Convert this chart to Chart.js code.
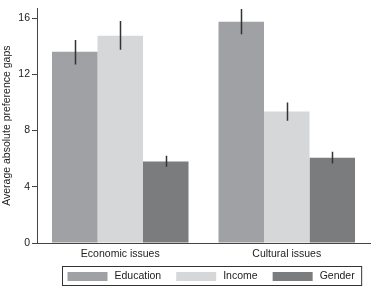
<!DOCTYPE html>
<html>
<head>
<meta charset="utf-8">
<script src="https://cdn.jsdelivr.net/npm/chart.js@4/dist/chart.umd.min.js"></script>
<style>
  html, body { margin: 0; padding: 0; background: #fff; }
  #wrap { width: 382px; height: 287px; }
</style>
</head>
<body>
<div id="wrap"><canvas id="chart" width="382" height="287"></canvas></div>
<script>
// Preference gaps by issue domain - grouped bars with confidence intervals
const categories = ['Economic issues', 'Cultural issues'];
const seriesNames = ['Education', 'Income', 'Gender'];
const seriesColors = ['#a0a1a4', '#d6d7d9', '#7b7c7e'];
const education = [13.6, 15.75];
const income = [14.75, 9.35];
const gender = [5.8, 6.07];
// [low, high] for each category
const educationCI = [[12.7, 14.45], [14.85, 16.65]];
const incomeCI = [[13.75, 15.8], [8.7, 10.0]];
const genderCI = [[5.42, 6.2], [5.65, 6.5]];
const yTicks = [0, 4, 8, 12, 16];

const FONT = 'Liberation Sans, Arial, Helvetica, sans-serif';
const intervals = [educationCI, incomeCI, genderCI];

const errorBars = {
    id: 'errorBars',
    afterDatasetsDraw(chart) {
        const ctx = chart.ctx, y = chart.scales.y, area = chart.chartArea;
        ctx.save();
        ctx.beginPath();
        ctx.rect(area.left, area.top, area.right - area.left, area.bottom - area.top);
        ctx.clip();
        ctx.strokeStyle = '#333';
        ctx.lineWidth = 1.5;
        intervals.forEach((ci, i) => {
            const meta = chart.getDatasetMeta(i);
            ci.forEach((r, j) => {
                const x = Math.round(meta.data[j].x) + 0.5;
                ctx.beginPath();
                ctx.moveTo(x, y.getPixelForValue(r[0]));
                ctx.lineTo(x, y.getPixelForValue(r[1]));
                ctx.stroke();
            });
        });
        ctx.restore();
    }
};

// boxed legend under the category labels
const boxLegend = {
    id: 'boxLegend',
    afterDraw(chart) {
        const ctx = chart.ctx, area = chart.chartArea;
        ctx.save();
        ctx.font = '10.5px ' + FONT;
        ctx.textBaseline = 'middle';
        const top = 266.5, h = 19, sw = 40, sh = 9, gap = 7, between = 15;
        const left = area.left + 25.5;
        let x = left + 5;
        seriesNames.forEach((name, i) => {
            ctx.fillStyle = seriesColors[i];
            ctx.fillRect(x, top + 5.5, sw, sh);
            ctx.fillStyle = '#222';
            ctx.fillText(name, x + sw + gap, top + h / 2 + 0.5);
            x += sw + gap + ctx.measureText(name).width + between;
        });
        const right = x - between + 7;
        ctx.strokeStyle = '#333';
        ctx.lineWidth = 1;
        ctx.strokeRect(left, top, right - left, h);
        ctx.restore();
    }
};

new Chart(document.getElementById('chart').getContext('2d'), {
    type: 'bar',
    data: {
        labels: categories,
        datasets: [
            { label: seriesNames[0], data: education, backgroundColor: seriesColors[0] },
            { label: seriesNames[1], data: income, backgroundColor: seriesColors[1] },
            { label: seriesNames[2], data: gender, backgroundColor: seriesColors[2] }
        ]
    },
    options: {
        responsive: false, animation: false,
        layout: { padding: { top: 0, right: 12, left: 0, bottom: 0 } },
        datasets: { bar: { categoryPercentage: 0.82, barPercentage: 1.0, borderWidth: 0 } },
        plugins: { legend: { display: false }, tooltip: { enabled: false } },
        scales: {
            x: {
                grid: { display: false, drawTicks: false },
                border: { display: true, color: '#444', width: 1 },
                ticks: { color: '#222', font: { family: FONT, size: 10.5 }, padding: 5 },
                afterFit(s) { s.height = 44; }
            },
            y: {
                min: 0, max: 16.7,
                afterBuildTicks(s) { s.ticks = yTicks.map(v => ({ value: v })); },
                grid: { display: true, drawOnChartArea: false, drawTicks: true, tickLength: 5, color: '#444' },
                border: { display: true, color: '#444', width: 1 },
                ticks: { color: '#222', font: { family: FONT, size: 10.5 }, padding: 2 },
                title: { display: true, text: 'Average absolute preference gaps', color: '#222',
                         font: { family: FONT, size: 10.5 }, padding: { top: 1, bottom: 0 } },
                afterFit(s) { s.width = 37; }
            }
        }
    },
    plugins: [errorBars, boxLegend]
});
</script>
</body>
</html>
